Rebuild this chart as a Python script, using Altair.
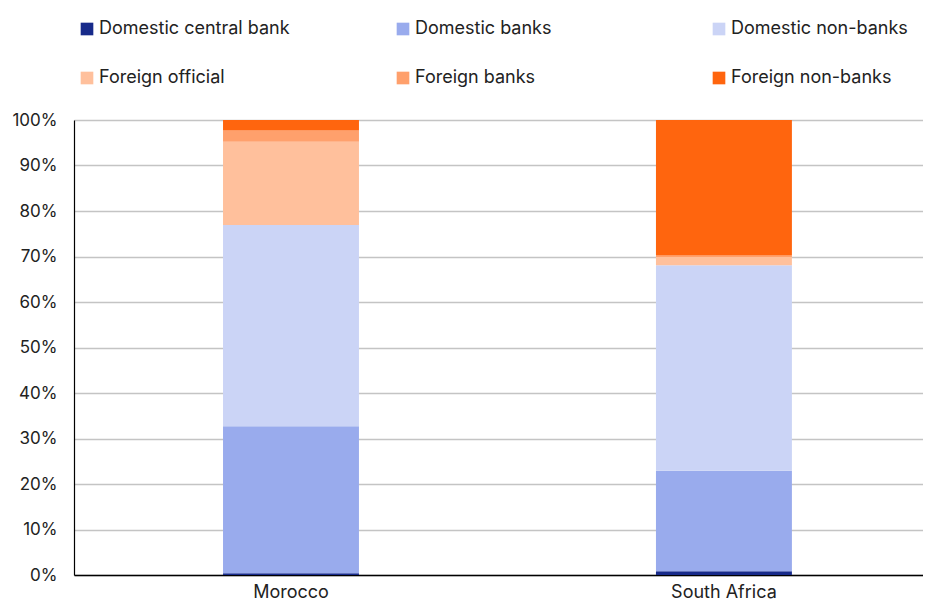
import altair as alt
import pandas as pd

countries = ["Morocco", "South Africa"]
series = ["Domestic central bank", "Domestic banks", "Domestic non-banks",
          "Foreign official", "Foreign banks", "Foreign non-banks"]
colors = ["#172a8a", "#99abed", "#cbd4f6", "#ffc09c", "#ffa06c", "#ff650e"]
morocco = [0.4, 32.3, 44.2, 18.3, 2.5, 2.3]
south_africa = [0.8, 22.1, 45.2, 1.8, 0.3, 29.8]

rows = []
for i, s in enumerate(series):
    rows.append({"country": "Morocco", "series": s, "order": i, "value": morocco[i] / 100})
    rows.append({"country": "South Africa", "series": s, "order": i, "value": south_africa[i] / 100})
df = pd.DataFrame(rows)

FONT = "Inter"

chart = alt.Chart(df).mark_bar().encode(
    x=alt.X("country:N", sort=countries, title=None,
            scale=alt.Scale(paddingInner=0.686, paddingOuter=0.3235, align=0.532),
            axis=alt.Axis(labelAngle=0, domainColor="#000000", domainWidth=1.5,
                          ticks=False, labelPadding=8, labelFontSize=18,
                          labelColor="#222222", labelFont=FONT)),
    y=alt.Y("value:Q", stack="zero", title=None,
            scale=alt.Scale(domain=[0, 1], nice=False),
            axis=alt.Axis(format=".0%", values=[i / 10 for i in range(11)],
                          domainColor="#000000", domainWidth=1.2, ticks=False,
                          labelPadding=17, labelFontSize=17, labelColor="#222222",
                          labelFont=FONT, gridColor="#c4c4c4", gridWidth=1.6)),
    color=alt.Color("series:N", sort=series,
                    scale=alt.Scale(domain=series, range=colors),
                    legend=alt.Legend(title=None, orient="none", legendX=4, legendY=-100,
                                      direction="horizontal", columns=3, gridAlign="all",
                                      columnPadding=104, rowPadding=31, labelLimit=400,
                                      symbolType="square", symbolSize=160,
                                      symbolStrokeWidth=0, labelFontSize=18,
                                      labelFont=FONT, labelColor="#222222",
                                      labelOffset=3)),
    order=alt.Order("order:Q", sort="ascending"),
).properties(
    width=849, height=455,
    padding={"left": 66, "top": 112, "right": 0, "bottom": 26},
    autosize=alt.AutoSizeParams(type="none"),
).configure_view(stroke=None).configure_axis(labelFont=FONT).configure_legend(gridAlign="all")

chart.save("out.html", embed_options={"renderer": "svg", "actions": False})
